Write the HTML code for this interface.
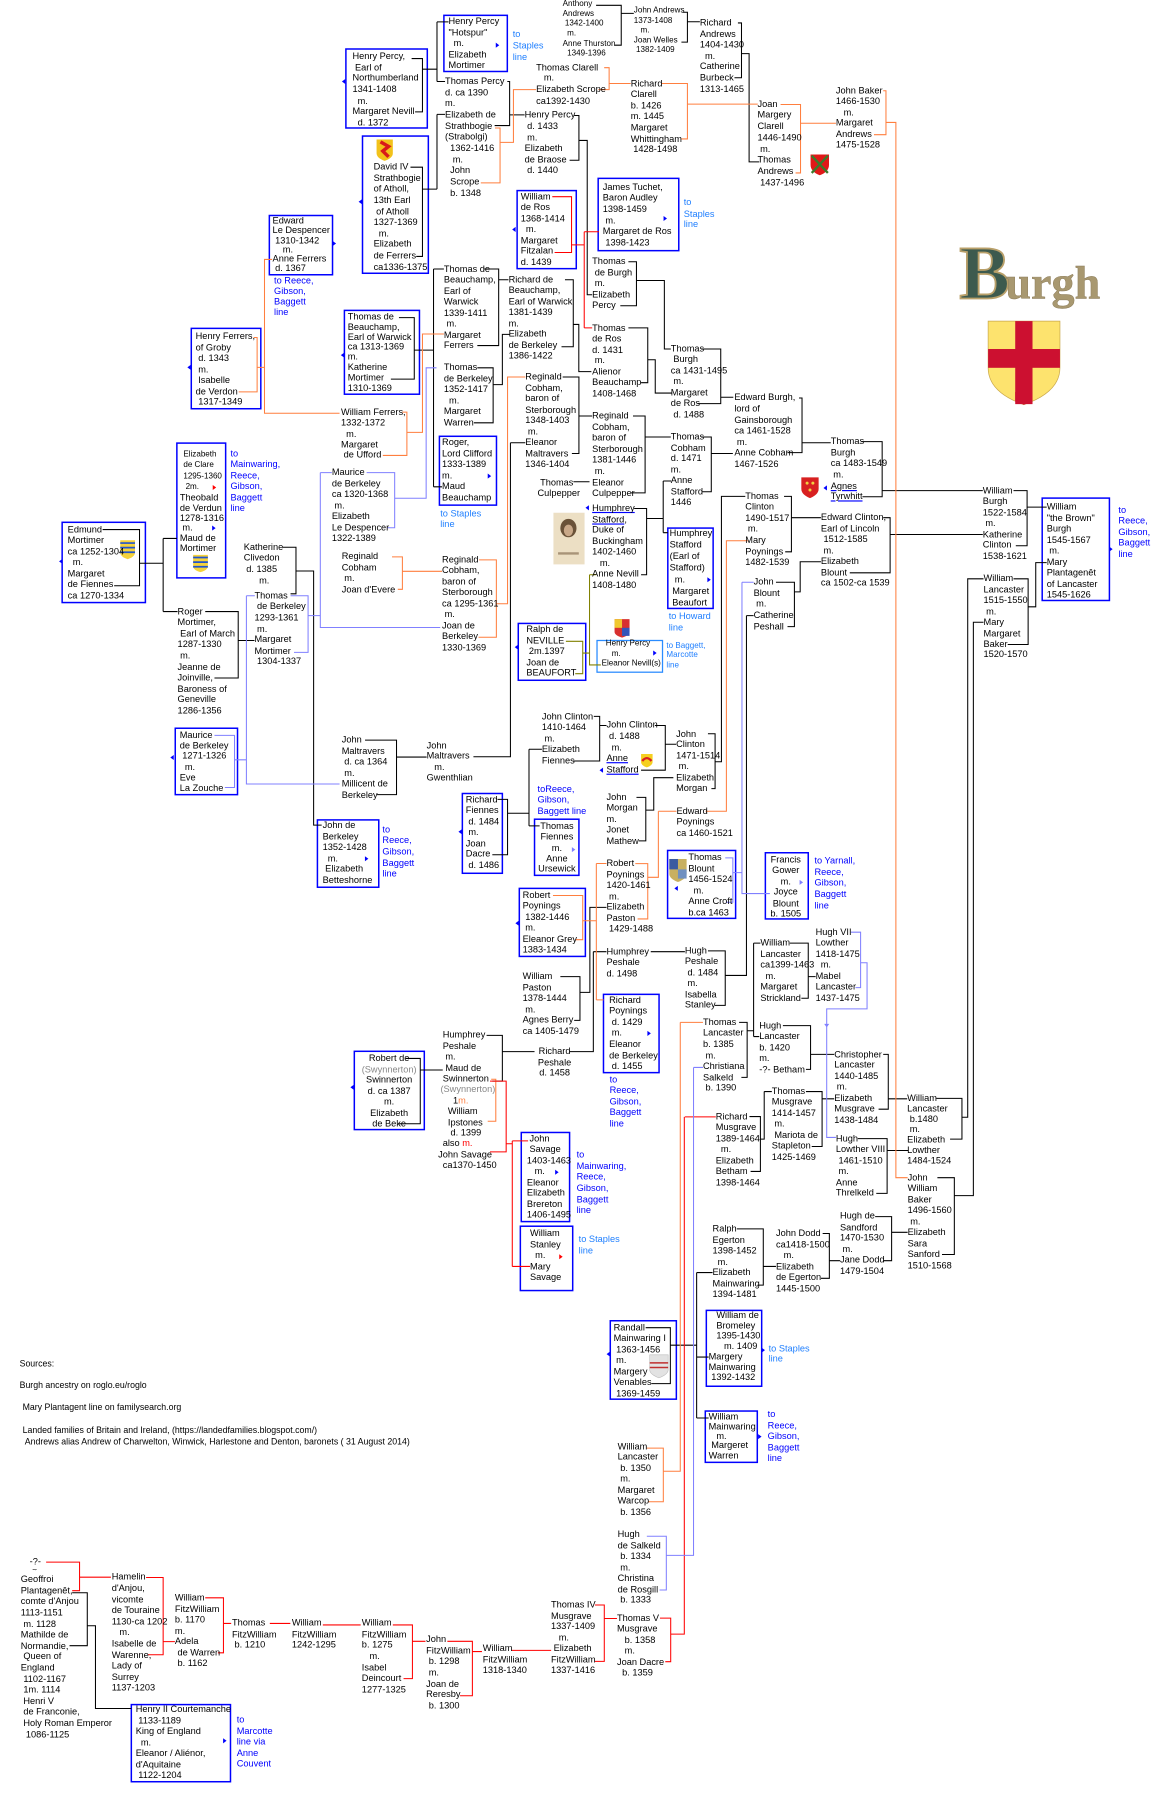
<!DOCTYPE html>
<html><head><meta charset="utf-8">
<style>
html,body{margin:0;padding:0;background:#fff;}
body{width:1153px;height:1804px;overflow:hidden;position:relative;}
#w{position:absolute;left:0;top:0;width:1000px;height:1565px;transform:scale(1.153);transform-origin:0 0;}
.t{position:absolute;font-family:"Liberation Sans",sans-serif;font-size:8px;line-height:9.6px;white-space:nowrap;color:#000;}
.s{font-size:7px;}
.bl{color:#0000ff;}
.lb{color:#1f7fff;}
.c{text-align:center;}
u{text-decoration-color:#0000ff;}
svg{position:absolute;left:0;top:0;}
</style></head><body><div id="w">
<svg width="1000" height="1565" viewBox="0 0 1000 1565" xmlns="http://www.w3.org/2000/svg">
<g fill="none" stroke="#0000ff" stroke-width="1.3">
<rect x="385" y="13.3" width="55" height="48.7"/>
<rect x="300" y="42.5" width="70.6" height="68.5"/>
<rect x="314.4" y="118" width="57.1" height="119"/>
<rect x="233.6" y="186.9" width="54.8" height="51.4"/>
<rect x="448.5" y="165.3" width="51.3" height="67.7"/>
<rect x="518.8" y="154.7" width="69.9" height="62.7"/>
<rect x="165.9" y="284.8" width="60.3" height="69.7"/>
<rect x="298.7" y="269.2" width="65.1" height="72.7"/>
<rect x="381.1" y="378.4" width="49.5" height="59.7"/>
<rect x="153.4" y="384.3" width="42.3" height="116.9"/>
<rect x="53.9" y="453" width="72.2" height="69.6"/>
<rect x="579.2" y="458" width="39.3" height="69.7"/>
<rect x="903.9" y="432" width="58.3" height="88.8"/>
<rect x="449.5" y="540.7" width="58.5" height="49.3"/>
<rect x="152" y="631.6" width="54" height="57.6"/>
<rect x="275.3" y="711.1" width="53.2" height="58.4"/>
<rect x="401" y="688.2" width="34.7" height="69.2"/>
<rect x="463.6" y="710.5" width="38.5" height="48.7"/>
<rect x="579" y="737.6" width="59" height="58.9"/>
<rect x="663.8" y="739.6" width="37.2" height="57.4"/>
<rect x="450.4" y="770.5" width="57.3" height="59"/>
<rect x="523.4" y="862.4" width="48.2" height="67.9"/>
<rect x="307.3" y="911.8" width="60.7" height="67.9"/>
<rect x="452.1" y="982.2" width="41.9" height="77.3"/>
<rect x="451.3" y="1063.5" width="45.4" height="55.8"/>
<rect x="529.3" y="1145.5" width="57.3" height="68"/>
<rect x="612.6" y="1136.5" width="48" height="65.8"/>
<rect x="611.7" y="1223.8" width="45.1" height="44.5"/>
<rect x="113.9" y="1478.4" width="86" height="66.9"/>
</g>
<rect x="517.8" y="555.5" width="56.8" height="27.5" fill="none" stroke="#2a8cff" stroke-width="1.1"/>
<g fill="none" stroke="#000" stroke-width="0.9">
<path d="M517,4.6H538.8V39.2H533M538.8,11.6H549.7"/>
<path d="M592,10.6H596.2V36.5H591M596.2,18.9H607"/>
<path d="M640,19.9H643.1V67.4H637M643.1,46.5H649.7V140.4H658.5"/>
<path d="M357,50.8H366.4V97H360M366.4,60H379M379,19V70.7M379,19H389M379,70.7H386M379,99.2V164M379,99.2H386"/>
<path d="M356,145H366.4V222.4H361M366.4,164H379"/>
<path d="M440,70.7H442V108.9H429M442,99.6H455"/>
<path d="M498,100.2H502.1V139H494M502.1,121.8H509.3V255.6H513.6"/>
<path d="M545,227H552V265.2H538M552,243.3H576.2V302.7H581.8"/>
<path d="M545,284.4H561.8V331.9H556M561.8,312H568.3V340.9H583"/>
<path d="M608,302.7H625.1V350.1H605M625.1,344.5H636"/>
<path d="M693,345.2H695.6V392.6H683M695.6,384H720.5"/>
<path d="M747,383H765.1V430.8H748M765.1,425.5H852.4"/>
<path d="M346,275.5H359.3V328.8H339M359.3,303.7H376M376,233.3V422.2M376,233.3H385M376,422.2H383.4"/>
<path d="M420,233.3H432.5V299.7H414M432.5,242.6H441"/>
<path d="M490,242.6H497.2V300.7H487M497.2,281.4H502V322.3H512.9"/>
<path d="M414,319H427.7V366.7H411M427.7,333.6H435.7V290H442"/>
<path d="M488,327H502.1V393.3H496M502.1,360.8H513.6"/>
<path d="M549,360.8H559.5V427.5H547M559.5,379H581.8"/>
<path d="M497.3,417.8H511.3"/>
<path d="M608,379H616.9V426.5H609M616.9,393.3H635.6"/>
<path d="M575.2,417.2V462M575.2,417.2H582M575.2,462H579.2M560.8,449.7H575.2"/>
<path d="M550,441H560.8V498.5H556"/>
<path d="M442.7,384H455.6M442.7,384V656.3H410.6"/>
<path d="M89,459.3H121V508H99M121,488.5H141.5M141.5,467V530.4M141.5,467H153.4M141.5,530.4H154"/>
<path d="M178,530.4H206.6V588H186M206.6,555.5H220.7"/>
<path d="M245,474.6H256.7V515H252M256.7,495.2H272V715.6H279"/>
<path d="M316.6,641.9H343.9V689.2H327M343.9,656.6H370"/>
<path d="M515,621.3H520.1V660H497M520.1,629.2H526"/>
<path d="M458.8,649.8V716.3M458.8,649.8H470M458.8,716.3H468M440.2,705.3H458.8"/>
<path d="M431.5,693.3H440.2V741.3H427"/>
<path d="M568,629.2H577V668H556M577,645.5H586.4"/>
<path d="M614,636.4H620.2V684H617M620.2,660.7H625.7V430.5H646.4"/>
<path d="M552,691.6H560.1V729.3H554M560.1,702.6H567V674.5H584"/>
<path d="M680,430.5H686.4V478.6H681M686.4,449H712"/>
<path d="M766,449H772V496.8H737M772,463.6H852.4"/>
<path d="M673,505H689V543.5H683M689,513.3H694V487.2H712"/>
<path d="M647.4,533.9H653.6M647.4,533.9V846H629M614,824.7H629V872H620"/>
<path d="M564.4,825.4H594M514.6,825.4H526M514.6,825.4V912.1H494"/>
<path d="M486,847H503V885H498M503,860.7H511.6V787H526"/>
<path d="M685,818H701V865.8H695M701,847H707.4M653.6,818V899M653.6,818H659.5M653.6,899H658.5"/>
<path d="M641,886.7H648V934.4H643M648,894H653.6"/>
<path d="M679,889.5H703V927.5H699M703,914.5H723.5"/>
<path d="M766,914.5H770.4V962H762M770.4,953H786.8"/>
<path d="M699,946.7H713V994.4H704M713,953H723.5M662.8,946.7V988H659.5M662.8,946.7H669.4"/>
<path d="M650,968.4H659.5V1016H651"/>
<path d="M744,987.5H769.4V1035H760M769.4,997.8H788"/>
<path d="M812,952.6H834.3V988H824M834.3,969H839.3V502H853"/>
<path d="M879,502H891.7V559H874M891.7,526.3H898.3V488H907.8"/>
<path d="M879,425.5H890.8V473.3H881M890.8,439.8H907.8"/>
<path d="M813,1021.4H827.7V1088H817M827.7,1037H844.2V539.7H853"/>
<path d="M422,898H435.7V937.7H427M435.7,912.1H463.6"/>
<path d="M352,918H364.5V974.6H346M364.5,928H384"/>
<path d="M639,1065.8H662V1114.6H657M662,1098.4H673"/>
<path d="M713.5,1069.8H719.3V1108.7H712M719.3,1093.4H728.5"/>
<path d="M759,1055.2H773.3V1093.4H766M773.3,1068.8H787.2"/>
<path d="M560,1151.5H581.4V1200H565M581.4,1166.7H604.2M604.2,1103.7V1229.8M604.2,1103.7H618M604.2,1229.8H614.6M604.2,1177H614.6"/>
<path d="M62.6,1381.4H75.7V1427.3H60.3M75.7,1410H82.8V1481.8H113.9"/>
</g>
<g fill="none" stroke="#ff7f3f" stroke-width="0.9">
<path d="M429.3,111H433.7V158.6H417M433.7,123.5H445.3V77.7H465"/>
<path d="M524,58.7H528.3V77.7H519M528.3,72.4H547"/>
<path d="M574,72.4H596.2V120.5H591M596.2,90.3H657.2"/>
<path d="M677,90.6H694.3V150H690M694.3,106.9H725"/>
<path d="M766,78.7H768.4V116.8H758M768.4,106.2H777V1021.4H787.2"/>
<path d="M236,225H229.4V358.4H294.5M220,292.7H223V339.9H207M223,318.6H229.4"/>
<path d="M385,289.7H366.4V375H352.9M349,357.4H352.9V395H332"/>
<path d="M455.6,327H440.2V523.6H430.5M415.5,485.6H430.5V552.7H415"/>
<path d="M340,483H349V511.1H345M349,495.5H383.4"/>
<path d="M612,703.6H630V469H648.7M571,703.6H586.7M571,703.6V760.9H561.8M551,749H561.8V797H553"/>
<path d="M479.6,776.7H505.4V815H499M505.4,798.6H517.2M517.2,748.9V867.2M517.2,748.9H526M517.2,867.2H523.4"/>
<path d="M426,936H430V972.5H423"/>
<path d="M590,886.7H609.7M590,886.7V1276H575.3M561,1256H575.3V1302.5H562"/>
</g>
<g fill="none" stroke="#ff0000" stroke-width="0.9">
<path d="M479,170.6H495.7V219H481M495.7,212.4H506.7M506.7,201V284.4M506.7,201H519.5M506.7,284.4H513.6"/>
<path d="M425,937.7H439V999H425M439,992H444.3M444.3,989.5V1098.4M444.3,989.5H458M444.3,1098.4H459.7"/>
<path d="M594,968.7H620.8M593.5,968.7V1417.3H581.7M572.4,1403.4H581.7V1441.2H577"/>
<path d="M516,1392H524.1V1440.9H516M524.1,1403.7H535.1"/>
<path d="M443.8,1431.4H478"/>
<path d="M40,1354.8H69V1379.6H62.6M69,1367.9H96.2"/>
<path d="M126.7,1368.2H141.5V1435.2H128M141.5,1423.8H151.7"/>
<path d="M178,1385.8H193.8V1433.5H189M193.8,1408H200.5"/>
<path d="M234,1408H251.8M280,1409.3H312.8"/>
<path d="M340.7,1409.3H357.7V1455.9H350M357.7,1423.5H369"/>
<path d="M388,1423.5H409.7V1470.7H399M409.7,1432.4H418"/>
</g>
<g fill="none" stroke="#8080ff" stroke-width="0.9">
<path d="M277.8,409.9H287.8M318,409.9H342.3V457.7H336M342.3,432.1H369.6V319H378.6M277.8,409.9V544.2H381.8"/>
<path d="M252,516.7H267.2V565.8H255M267.2,533.9H277.8M213.7,516.7H221M213.7,516.7V680H294.5M186,637.8H203.4V683H195M203.4,659H213.7"/>
<path d="M629,744H635.6V782.5H630M635.6,756.8H643.5M643.5,505H653.6M643.5,505V775H667.7"/>
<path d="M738,808.5H746.4V856.6H742M746.4,835H752V875H717V986.5H725"/>
<path d="M601.5,925.8H609.7M601.5,925.8V1349H577.9M561,1332.4H577.9V1379H572"/>
</g>
<g fill="none" stroke="#808000" stroke-width="0.9">
<path d="M490.8,556.2H505.4V584.3H498.9M505.4,566.4H511.3M511.3,498.5V576.7H521.1M511.3,498.5H516.8"/>
</g>
<!-- arrows -->
<g fill="#0000ff">
<path d="M430,37l3,2.2l-3,2.2z"/><path d="M288.5,209l3,2.2l-3,2.2z"/><path d="M423,410.7l3,2.2l-3,2.2z"/>
<path d="M184,455.8l3,2.2l-3,2.2z"/><path d="M575.5,187.3l3,2.2l-3,2.2z"/><path d="M316.5,742.6l3,2.2l-3,2.2z"/>
<path d="M561.5,894.1l3,2.2l-3,2.2z"/><path d="M481.5,1014.5l3,2.2l-3,2.2z"/><path d="M660.5,1168.8l3,2.2l-3,2.2z"/>
<path d="M657.5,1243.8l3,2.2l-3,2.2z"/><path d="M193.5,1507.6l3,2.2l-3,2.2z"/><path d="M613.5,500.6l3,2.2l-3,2.2z"/>
<path d="M566.5,564.2l3,2.2l-3,2.2z"/><path d="M962,474.1l3,2.2l-3,2.2z"/>
<path d="M299.5,68.5l-3,2.2l3,2.2z"/><path d="M314,172.8l-3,2.2l3,2.2z"/><path d="M447.2,196.8l-3,2.2l3,2.2z"/>
<path d="M165.5,316.4l-3,2.2l3,2.2z"/><path d="M298.6,305.8l-3,2.2l3,2.2z"/><path d="M54.2,484.7l-3,2.2l3,2.2z"/>
<path d="M150.7,654.8l-3,2.2l3,2.2z"/><path d="M400.6,719.2l-3,2.2l3,2.2z"/><path d="M450,798.5l-3,2.2l3,2.2z"/>
<path d="M306.9,940.8l-3,2.2l3,2.2z"/><path d="M449.4,559.1l-3,2.2l3,2.2z"/><path d="M529.1,1172.2l-3,2.2l3,2.2z"/>
<path d="M587.9,768.3l-3,2.2l3,2.2z"/><path d="M717.2,421l-3,2.2l3,2.2z"/><path d="M510.8,438.2l-3,2.2l3,2.2z"/>
<path d="M523,665.8l-3,2.2l3,2.2z"/>
</g>
<g fill="#8080ff"><path d="M496,734.7l3,2.2l-3,2.2z"/><path d="M693.5,763.1l3,2.2l-3,2.2z"/><path d="M714.8,888l2.2,3l2.2,-3z"/></g>
<g fill="#ff0000"><path d="M184.5,420.6l3,2.2l-3,2.2z"/><path d="M485,1087.8l3,2.2l-3,2.2z"/></g>
<!-- shields / images -->
<path d="M857,278.5H919.3V319Q919.3,340 888,351Q857,340 857,319Z" fill="#fde36e" stroke="#c9a74a" stroke-width="0.6"/>
<rect x="880.5" y="278.5" width="15" height="72" fill="#cc1030"/>
<rect x="857" y="302.7" width="62.3" height="16.3" fill="#cc1030"/>
<path d="M888,351 L880.5,348 V340 H895.5 V348Z" fill="#cc1030"/>
<text x="832" y="259" font-family="Liberation Serif,serif" font-weight="bold" font-size="66" fill="#3d5a4e" stroke="#b9a06a" stroke-width="1.6">B</text>
<text x="872" y="259" font-family="Liberation Serif,serif" font-weight="bold" font-size="40" fill="#a89870" stroke="#8a7a58" stroke-width="0.4">urgh</text>
<path d="M703,134H719V143Q719,149 711,152Q703,149 703,143Z" fill="#e01818"/>
<path d="M704,135L718,150M718,135L704,150" stroke="#3b7a2a" stroke-width="2"/>
<path d="M695,414H710V424Q710,429 702.5,432Q695,429 695,424Z" fill="#d82020"/>
<circle cx="700" cy="419" r="1.3" fill="#f0d040"/><circle cx="705" cy="419" r="1.3" fill="#f0d040"/><circle cx="702.5" cy="425" r="1.3" fill="#f0d040"/>
<path d="M326.6,121H340.7V133Q340.7,137 333.6,139.5Q326.6,137 326.6,133Z" fill="#f2c21a"/>
<path d="M330,123L337,127L332,131L337,136" stroke="#d81a1a" stroke-width="3" fill="none"/>
<path d="M104.3,468.6H117.1V479Q117.1,483 110.7,485Q104.3,483 104.3,479Z" fill="#f5d23a"/>
<path d="M104.3,471H117.1M104.3,475H117.1M104.3,479H117.1" stroke="#2255cc" stroke-width="1.5"/>
<path d="M167.5,481.2H180.3V491Q180.3,494.5 173.9,496.2Q167.5,494.5 167.5,491Z" fill="#f5d23a"/>
<path d="M167.5,483.5H180.3M167.5,487.5H180.3M167.5,491.5H180.3" stroke="#2255cc" stroke-width="1.5"/>
<path d="M533,537H546V548Q546,551 539.5,553Q533,551 533,548Z" fill="#d83030"/>
<rect x="533" y="537" width="6.5" height="7.5" fill="#f0c830"/><rect x="539.5" y="544.5" width="6.5" height="7" fill="#3355bb"/>
<path d="M556,654H566V661Q566,664 561,665.5Q556,664 556,661Z" fill="#f5d020"/>
<path d="M557,660Q561,655 565,660" stroke="#d82020" stroke-width="2" fill="none"/>
<path d="M580.5,745H595.5V758Q595.5,762 588,765Q580.5,762 580.5,758Z" fill="#c8b060"/>
<rect x="580.5" y="745" width="7.5" height="9" fill="#3a5aa0"/><rect x="588" y="754" width="7.5" height="8" fill="#7090c0"/>
<path d="M563.5,1175H579.5V1188Q579.5,1192 571.5,1195Q563.5,1192 563.5,1188Z" fill="#e2e2e2" stroke="#bbb" stroke-width="0.5"/>
<path d="M563.5,1182H579.5M563.5,1186H579.5" stroke="#c03030" stroke-width="1.3"/>
<rect x="480" y="444.7" width="27" height="44.8" fill="#ecdfc4"/>
<ellipse cx="493" cy="458" rx="7" ry="8" fill="#6a5238"/><ellipse cx="493" cy="460" rx="4" ry="5" fill="#c9a888"/>
<path d="M484,480H502" stroke="#a89478" stroke-width="2"/>
</svg>

<div class="t s" style="left:488px;top:0.3px;line-height:8.6px">Anthony<br>Andrews<br>&nbsp;1342-1400<br>&nbsp;&nbsp;m.<br>Anne Thurston<br>&nbsp;&nbsp;1349-1396</div>
<div class="t s" style="left:549.7px;top:6.35px;line-height:8.5px">John Andrews<br>1373-1408<br>&nbsp;&nbsp;&nbsp;m.<br>Joan Welles<br>&nbsp;1382-1409</div>
<div class="t" style="left:607px;top:15.1px">Richard<br>Andrews<br>1404-1430<br>&nbsp;&nbsp;m.<br>Catherine<br>Burbeck<br>1313-1465</div>
<div class="t" style="left:389px;top:14.25px;line-height:9.5px">Henry Percy<br>"Hotspur"<br>&nbsp;&nbsp;m.<br>Elizabeth<br>Mortimer</div>
<div class="t lb" style="left:444.7px;top:25.4px">to<br>Staples<br>line</div>
<div class="t" style="left:305.7px;top:44.2px">Henry Percy,<br>&nbsp;Earl of<br>Northumberland<br>1341-1408<br>&nbsp;&nbsp;m.<br>Margaret Nevill<br>&nbsp;&nbsp;d. 1372</div>
<div class="t" style="left:386px;top:65.85px;line-height:9.7px">Thomas Percy<br>d. ca 1390<br>m.<br>Elizabeth de<br>Strathbogie<br>(Strabolgi)<br>&nbsp;&nbsp;1362-1416<br>&nbsp;&nbsp;&nbsp;m.<br>&nbsp;&nbsp;John<br>&nbsp;&nbsp;Scrope<br>&nbsp;&nbsp;b. 1348</div>
<div class="t" style="left:465px;top:53.9px">Thomas Clarell<br>&nbsp;&nbsp;&nbsp;m.<br>Elizabeth Scrope<br>ca1392-1430</div>
<div class="t" style="left:547px;top:67.6px">Richard<br>Clarell<br>b. 1426<br>m. 1445<br>Margaret<br>Whittingham<br>&nbsp;1428-1498</div>
<div class="t" style="left:455px;top:95.4px">Henry Percy<br>&nbsp;d. 1433<br>&nbsp;m.<br>Elizabeth<br>de Braose<br>&nbsp;d. 1440</div>
<div class="t" style="left:324px;top:140.2px">David IV<br>Strathbogie<br>of Atholl,<br>13th Earl<br>&nbsp;of Atholl<br>1327-1369<br>&nbsp;&nbsp;m.<br>Elizabeth<br>de Ferrers<br>ca1336-1375</div>
<div class="t" style="left:657px;top:85.75px;line-height:9.7px">Joan<br>Margery<br>Clarell<br>1446-1490<br>&nbsp;m.<br>Thomas<br>Andrews<br>&nbsp;1437-1496</div>
<div class="t" style="left:725px;top:73.95px;line-height:9.5px">John Baker<br>1466-1530<br>&nbsp;&nbsp;&nbsp;m.<br>Margaret<br>Andrews<br>1475-1528</div>
<div class="t" style="left:236.4px;top:188.1px;line-height:8.2px">Edward<br>Le Despencer<br>&nbsp;1310-1342<br>&nbsp;&nbsp;&nbsp;&nbsp;m.<br>Anne Ferrers<br>&nbsp;d. 1367</div>
<div class="t bl" style="left:237.7px;top:238.8px;line-height:9px">to Reece,<br>Gibson,<br>Baggett<br>line</div>
<div class="t" style="left:451.7px;top:165.85px;line-height:9.5px">William<br>de Ros<br>1368-1414<br>&nbsp;&nbsp;m.<br>Margaret<br>Fitzalan<br>d. 1439</div>
<div class="t" style="left:522.8px;top:157.8px">James Tuchet,<br>Baron Audley<br>1398-1459<br>&nbsp;m.<br>Margaret de Ros<br>&nbsp;1398-1423</div>
<div class="t lb" style="left:593px;top:171.1px">to<br>Staples<br>line</div>
<div class="t" style="left:513.6px;top:222.2px;line-height:9.55px">Thomas<br>&nbsp;de Burgh<br>&nbsp;m.<br>Elizabeth<br>Percy</div>
<div class="t" style="left:169.7px;top:287.2px;line-height:9.55px">Henry Ferrers,<br>of Groby<br>&nbsp;d. 1343<br>&nbsp;m.<br>&nbsp;Isabelle<br>de Verdon<br>&nbsp;1317-1349</div>
<div class="t" style="left:301.6px;top:271.1px;line-height:8.8px">Thomas de<br>Beauchamp,<br>Earl of Warwick<br>ca 1313-1369<br>m.<br>Katherine<br>Mortimer<br>1310-1369</div>
<div class="t" style="left:385px;top:228.55px;line-height:9.5px">Thomas de<br>Beauchamp,<br>Earl of<br>Warwick<br>1339-1411<br>&nbsp;m.<br>Margaret<br>Ferrers</div>
<div class="t" style="left:441.1px;top:237.85px;line-height:9.5px">Richard de<br>Beauchamp,<br>Earl of Warwick<br>1381-1439<br>m.<br>Elizabeth<br>de Berkeley<br>1386-1422</div>
<div class="t" style="left:513.6px;top:279.65px;line-height:9.5px">Thomas<br>de Ros<br>d. 1431<br>&nbsp;m.<br>Alienor<br>Beauchamp<br>1408-1468</div>
<div class="t" style="left:581.8px;top:297.95px;line-height:9.5px">Thomas<br>&nbsp;Burgh<br>ca 1431-1495<br>&nbsp;m.<br>Margaret<br>de Ros<br>&nbsp;d. 1488</div>
<div class="t" style="left:636.9px;top:340.4px">Edward Burgh,<br>lord of<br>Gainsborough<br>ca 1461-1528<br>&nbsp;m.<br>Anne Cobham<br>1467-1526</div>
<div class="t" style="left:720.5px;top:378.2px">Thomas<br>Burgh<br>ca 1483-1549<br>&nbsp;m.<br><u>Agnes</u><br><u>Tyrwhitt</u></div>
<div class="t" style="left:385px;top:314.25px;line-height:9.5px">Thomas<br>de Berkeley<br>1352-1417<br>&nbsp;&nbsp;m.<br>Margaret<br>Warren</div>
<div class="t" style="left:295.8px;top:352.7px;line-height:9.4px">William Ferrers,<br>1332-1372<br>&nbsp;&nbsp;m.<br>Margaret<br>&nbsp;de Ufford</div>
<div class="t" style="left:455.6px;top:322.25px;line-height:9.5px">Reginald<br>Cobham,<br>baron of<br>Sterborough<br>1348-1403<br>&nbsp;m.<br>Eleanor<br>Maltravers<br>1346-1404</div>
<div class="t" style="left:513.6px;top:356px">Reginald<br>Cobham,<br>baron of<br>Sterborough<br>1381-1446<br>&nbsp;m.<br>Eleanor<br>Culpepper</div>
<div class="t" style="left:466.2px;top:414.15px;line-height:9.3px">&nbsp;Thomas<br>Culpepper</div>
<div class="t" style="left:581.8px;top:374.25px;line-height:9.5px">Thomas<br>Cobham<br>d. 1471<br>m.<br>Anne<br>Stafford<br>1446</div>
<div class="t" style="left:383.4px;top:379.25px;line-height:9.5px">Roger,<br>Lord Clifford<br>1333-1389<br>m.<br>Maud<br>Beauchamp</div>
<div class="t lb" style="left:381.8px;top:441.05px;line-height:9.3px">to Staples<br>line</div>
<div class="t" style="left:287.8px;top:405.15px;line-height:9.5px">Maurice<br>de Berkeley<br>ca 1320-1368<br>&nbsp;m.<br>Elizabeth<br>Le Despencer<br>1322-1389</div>
<div class="t s" style="left:159px;top:389.5px;line-height:9.5px">Elizabeth<br>de Clare<br>1295-1360<br>&nbsp;2m.</div>
<div class="t" style="left:156px;top:428.15px;line-height:8.7px">Theobald<br>de Verdun<br>1278-1316<br>&nbsp;m.<br>Maud de<br>Mortimer</div>
<div class="t bl" style="left:199.9px;top:388.5px;line-height:9.55px">to<br>Mainwaring,<br>Reece,<br>Gibson,<br>Baggett<br>line</div>
<div class="t" style="left:58.7px;top:454.5px">Edmund<br>Mortimer<br>ca 1252-1304<br>&nbsp;&nbsp;m.<br>Margaret<br>de Fiennes<br>ca 1270-1334</div>
<div class="t" style="left:211.4px;top:469.8px">Katherine<br>Clivedon<br>&nbsp;d. 1385<br>&nbsp;&nbsp;&nbsp;&nbsp;&nbsp;&nbsp;m.</div>
<div class="t" style="left:220.7px;top:511.9px;line-height:9.55px">Thomas<br>&nbsp;de Berkeley<br>1293-1361<br>&nbsp;m.<br>Margaret<br>Mortimer<br>&nbsp;1304-1337</div>
<div class="t" style="left:296.4px;top:478.3px;line-height:9.4px">Reginald<br>Cobham<br>&nbsp;m.<br>Joan d'Evere</div>
<div class="t" style="left:383.4px;top:480.85px;line-height:9.5px">Reginald<br>Cobham,<br>baron of<br>Sterborough<br>ca 1295-1361<br>&nbsp;m.<br>Joan de<br>Berkeley<br>1330-1369</div>
<div class="t" style="left:513.6px;top:436.25px;line-height:9.5px"><u>Humphrey</u><br><u>Stafford</u>,<br>Duke of<br>Buckingham<br>1402-1460<br>&nbsp;&nbsp;&nbsp;m.<br>Anne Nevill<br>1408-1480</div>
<div class="t" style="left:580.8px;top:458px;line-height:10px">Humphrey<br>Stafford<br>(Earl of<br>Stafford)<br>&nbsp;&nbsp;m.<br>&nbsp;Margaret<br>&nbsp;Beaufort</div>
<div class="t lb" style="left:580px;top:530.4px;line-height:9.2px">to Howard<br>line</div>
<div class="t" style="left:646.4px;top:425.7px">Thomas<br>Clinton<br>1490-1517<br>&nbsp;m.<br>Mary<br>Poynings<br>1482-1539</div>
<div class="t" style="left:712px;top:444.25px;line-height:9.5px">Edward Clinton,<br>Earl of Lincoln<br>&nbsp;1512-1585<br>&nbsp;m.<br>Elizabeth<br>Blount<br>ca 1502-ca 1539</div>
<div class="t" style="left:852.4px;top:420.75px;line-height:9.5px">William<br>Burgh<br>1522-1584<br>&nbsp;m.<br>Katherine<br>Clinton<br>1538-1621</div>
<div class="t" style="left:907.8px;top:435.05px;line-height:9.5px">William<br>"the Brown"<br>Burgh<br>1545-1567<br>&nbsp;m.<br>Mary<br>Plantagenêt<br>of Lancaster<br>1545-1626</div>
<div class="t bl" style="left:970px;top:437.65px;line-height:9.5px">to<br>Reece,<br>Gibson,<br>Baggett<br>line</div>
<div class="t" style="left:853px;top:497.3px;line-height:9.45px">William<br>Lancaster<br>1515-1550<br>&nbsp;m.<br>Mary<br>Margaret<br>Baker<br>1520-1570</div>
<div class="t" style="left:653.6px;top:500.2px">John<br>Blount<br>&nbsp;m.<br>Catherine<br>Peshall</div>
<div class="t" style="left:456.5px;top:541.45px;line-height:9.5px">Ralph de<br>NEVILLE<br>&nbsp;2m.1397<br>Joan de<br>BEAUFORT</div>
<div class="t s" style="left:525.4px;top:555.4px;line-height:8.5px">Henry Percy</div>
<div class="t s" style="left:530.6px;top:563.9px;line-height:8.5px">m.</div>
<div class="t s" style="left:521.8px;top:572.4px;line-height:8.5px">Eleanor Nevill(s)</div>
<div class="t lb s" style="left:578px;top:556.75px;line-height:8.5px">to Baggett,<br>Marcotte<br>line</div>
<div class="t" style="left:154px;top:525.6px">Roger<br>Mortimer,<br>&nbsp;Earl of March<br>1287-1330<br>&nbsp;m.<br>Jeanne de<br>Joinville,<br>Baroness of<br>Geneville<br>1286-1356</div>
<div class="t" style="left:155.9px;top:633.25px;line-height:9.1px">Maurice<br>de Berkeley<br>&nbsp;1271-1326<br>&nbsp;&nbsp;m.<br>Eve<br>La Zouche</div>
<div class="t" style="left:296.4px;top:637.15px;line-height:9.5px">John<br>Maltravers<br>&nbsp;d. ca 1364<br>&nbsp;m.<br>Millicent de<br>Berkeley</div>
<div class="t" style="left:370px;top:641.95px;line-height:9.5px">John<br>Maltravers<br>&nbsp;&nbsp;&nbsp;m.<br>Gwenthlian</div>
<div class="t" style="left:279.8px;top:711.2px;line-height:9.55px">John de<br>Berkeley<br>1352-1428<br>&nbsp;&nbsp;m.<br>&nbsp;Elizabeth<br>Betteshorne</div>
<div class="t bl" style="left:331.7px;top:714.9px;line-height:9.55px">to<br>Reece,<br>Gibson,<br>Baggett<br>line</div>
<div class="t" style="left:470px;top:616.5px">John Clinton<br>1410-1464<br>&nbsp;m.<br>Elizabeth<br>Fiennes</div>
<div class="t" style="left:526px;top:624.4px">John Clinton<br>&nbsp;d. 1488<br>&nbsp;&nbsp;m.<br><u>Anne</u><br><u>Stafford</u></div>
<div class="t" style="left:586.4px;top:631.65px;line-height:9.5px">John<br>Clinton<br>1471-1514<br>&nbsp;m.<br>Elizabeth<br>Morgan</div>
<div class="t bl" style="left:466.2px;top:679.9px">toReece,<br>Gibson,<br>Baggett line</div>
<div class="t" style="left:404px;top:688.5px">Richard<br>Fiennes<br>&nbsp;d. 1484<br>&nbsp;m.<br>Joan<br>Dacre<br>&nbsp;d. 1486</div>
<div class="t c" style="left:464px;width:38px;top:711.6px;line-height:9.45px">Thomas<br>Fiennes<br>m.<br>Anne<br>Ursewick</div>
<div class="t" style="left:526px;top:686.9px;line-height:9.45px">John<br>Morgan<br>m.<br>Jonet<br>Mathew</div>
<div class="t" style="left:586.7px;top:698.8px">Edward<br>Poynings<br>ca 1460-1521</div>
<div class="t" style="left:597px;top:739.25px;line-height:9.5px">Thomas<br>Blount<br>1456-1524<br>&nbsp;&nbsp;m.<br>Anne Croft<br>b.ca 1463</div>
<div class="t c" style="left:664px;width:35px;top:740.75px;line-height:9.5px">Francis<br>Gower<br>m.<br>Joyce<br>Blount<br>b. 1505</div>
<div class="t bl" style="left:706.4px;top:742.2px">to Yarnall,<br>Reece,<br>Gibson,<br>Baggett<br>line</div>
<div class="t" style="left:526px;top:744.25px;line-height:9.5px">Robert<br>Poynings<br>1420-1461<br>&nbsp;m.<br>Elizabeth<br>Paston<br>&nbsp;1429-1488</div>
<div class="t" style="left:453.3px;top:771.95px;line-height:9.5px">Robert<br>Poynings<br>&nbsp;1382-1446<br>&nbsp;m.<br>Eleanor Grey<br>1383-1434</div>
<div class="t" style="left:707.4px;top:803.7px;line-height:9.55px">Hugh VII<br>Lowther<br>1418-1475<br>&nbsp;&nbsp;m.<br>Mabel<br>Lancaster<br>1437-1475</div>
<div class="t" style="left:659.5px;top:813.2px;line-height:9.55px">William<br>Lancaster<br>ca1399-1463<br>&nbsp;&nbsp;m.<br>Margaret<br>Strickland</div>
<div class="t" style="left:526px;top:820.7px;line-height:9.4px">Humphrey<br>Peshale<br>d. 1498</div>
<div class="t" style="left:594px;top:819.95px;line-height:9.5px">Hugh<br>Peshale<br>&nbsp;d. 1484<br>&nbsp;m.<br>Isabella<br>Stanley</div>
<div class="t" style="left:453.3px;top:842.25px;line-height:9.5px">William<br>Paston<br>1378-1444<br>&nbsp;m.<br>Agnes Berry<br>ca 1405-1479</div>
<div class="t" style="left:528.3px;top:862.7px">Richard<br>Poynings<br>&nbsp;d. 1429<br>&nbsp;m.<br>Eleanor<br>de Berkeley<br>&nbsp;d. 1455</div>
<div class="t bl" style="left:528.7px;top:931.75px;line-height:9.5px">to<br>Reece,<br>Gibson,<br>Baggett<br>line</div>
<div class="t" style="left:609.7px;top:881.9px">Thomas<br>Lancaster<br>b. 1385<br>&nbsp;m.<br>Christiana<br>Salkeld<br>&nbsp;b. 1390</div>
<div class="t" style="left:658.5px;top:884.75px;line-height:9.5px">Hugh<br>Lancaster<br>b. 1420<br>m.<br>-?- Betham</div>
<div class="t" style="left:723.5px;top:909.7px;line-height:9.55px">Christopher<br>Lancaster<br>1440-1485<br>&nbsp;m.<br>Elizabeth<br>Musgrave<br>1438-1484</div>
<div class="t" style="left:384px;top:893.3px;line-height:9.4px">Humphrey<br>Peshale<br>&nbsp;m.<br>&nbsp;Maud de<br>Swinnerton<br><span style="color:#888;margin-left:-2px">(Swynnerton)</span><br>&nbsp;&nbsp;&nbsp;&nbsp;1<span style="color:#ff7f3f">m.</span><br>&nbsp;&nbsp;William<br>&nbsp;&nbsp;Ipstones<br>&nbsp;&nbsp;&nbsp;d. 1399<br>also <span style="color:#ff0000">m.</span><br><span style="margin-left:-4px">John Savage</span><br>ca1370-1450</div>
<div class="t c" style="left:462px;width:38px;top:907.35px;line-height:9.5px">Richard<br>Peshale<br>d. 1458</div>
<div class="t c" style="left:309px;width:57px;top:913.25px;line-height:9.5px">Robert de<br><span style="color:#888">(Swynnerton)</span><br>Swinnerton<br>d. ca 1387<br>m.<br>Elizabeth<br>de Beke</div>
<div class="t" style="left:669.4px;top:941.95px;line-height:9.5px">Thomas<br>Musgrave<br>1414-1457<br>&nbsp;m.<br>&nbsp;Mariota de<br>Stapleton<br>1425-1469</div>
<div class="t" style="left:620.8px;top:963.6px;line-height:9.55px">Richard<br>Musgrave<br>1389-1464<br>&nbsp;&nbsp;m.<br>Elizabeth<br>Betham<br>1398-1464</div>
<div class="t" style="left:786.8px;top:948.05px;line-height:9.07px">William<br>Lancaster<br>&nbsp;b.1480<br>&nbsp;m.<br>Elizabeth<br>Lowther<br>1484-1524</div>
<div class="t" style="left:725px;top:982.75px;line-height:9.5px">Hugh<br>Lowther VIII<br>&nbsp;1461-1510<br>&nbsp;m.<br>Anne<br>Threlkeld</div>
<div class="t" style="left:457px;top:982.75px;line-height:9.5px">&nbsp;John<br>&nbsp;Savage<br>1403-1463<br>&nbsp;&nbsp;&nbsp;m.<br>Eleanor<br>Elizabeth<br>Brereton<br>1406-1495</div>
<div class="t bl" style="left:500.1px;top:997.2px">to<br>Mainwaring,<br>Reece,<br>Gibson,<br>Baggett<br>line</div>
<div class="t" style="left:787.2px;top:1016.65px;line-height:9.5px">John<br>William<br>Baker<br>1496-1560<br>&nbsp;m.<br>Elizabeth<br>Sara<br>Sanford<br>1510-1568</div>
<div class="t" style="left:728.5px;top:1050.45px;line-height:9.5px">Hugh de<br>Sandford<br>1470-1530<br>&nbsp;m.<br>Jane Dodd<br>1479-1504</div>
<div class="t" style="left:673px;top:1065.05px;line-height:9.5px">John Dodd<br>ca1418-1500<br>&nbsp;&nbsp;&nbsp;m.<br>Elizabeth<br>de Egerton<br>1445-1500</div>
<div class="t" style="left:618px;top:1061.05px;line-height:9.5px">Ralph<br>Egerton<br>1398-1452<br>&nbsp;&nbsp;m.<br>Elizabeth<br>Mainwaring<br>1394-1481</div>
<div class="t" style="left:459.7px;top:1065px">William<br>Stanley<br>&nbsp;&nbsp;m.<br>Mary<br>Savage</div>
<div class="t lb" style="left:501.9px;top:1070.3px;line-height:9.4px">to Staples<br>line</div>
<div class="t" style="left:17px;top:1178px;font-size:7.6px">Sources:</div>
<div class="t" style="left:17px;top:1197.4px;font-size:7.6px">Burgh ancestry on roglo.eu/roglo</div>
<div class="t" style="left:19.6px;top:1215.7px;font-size:7.6px">Mary Plantagent line on familysearch.org</div>
<div class="t" style="left:19.6px;top:1236.4px;font-size:7.6px">Landed families of Britain and Ireland, (https://landedfamilies.blogspot.com/)</div>
<div class="t" style="left:21.5px;top:1245.7px;font-size:7.6px">Andrews alias Andrew of Charwelton, Winwick, Harlestone and Denton, baronets ( 31 August 2014)</div>
<div class="t" style="left:532.2px;top:1146.75px;line-height:9.5px">Randall<br>Mainwaring I<br>&nbsp;1363-1456<br>&nbsp;m.<br>Margery<br>Venables<br>&nbsp;1369-1459</div>
<div class="t" style="left:614.6px;top:1137.4px;line-height:8.95px">&nbsp;&nbsp;&nbsp;William de<br>&nbsp;&nbsp;&nbsp;Bromeley<br>&nbsp;&nbsp;&nbsp;1395-1430<br>&nbsp;&nbsp;&nbsp;&nbsp;&nbsp;&nbsp;m. 1409<br>Margery<br>Mainwaring<br>&nbsp;1392-1432</div>
<div class="t lb" style="left:666.6px;top:1165px;line-height:9.3px">to Staples<br>line</div>
<div class="t" style="left:614.6px;top:1225.35px;line-height:8.3px">William<br>Mainwaring<br>&nbsp;&nbsp;&nbsp;m.<br>&nbsp;Margeret<br>Warren</div>
<div class="t bl" style="left:665.8px;top:1222.25px;line-height:9.5px">to<br>Reece,<br>Gibson,<br>Baggett<br>line</div>
<div class="t" style="left:535.7px;top:1249.95px;line-height:9.5px">William<br>Lancaster<br>&nbsp;b. 1350<br>&nbsp;m.<br>Margaret<br>Warcop<br>&nbsp;b. 1356</div>
<div class="t" style="left:535.7px;top:1326.25px;line-height:9.5px">Hugh<br>de Salkeld<br>&nbsp;b. 1334<br>&nbsp;m.<br>Christina<br>de Rosgill<br>&nbsp;b. 1333</div>
<div class="t" style="left:477.9px;top:1387.25px;line-height:9.5px">Thomas IV<br>Musgrave<br>1337-1409<br>&nbsp;&nbsp;&nbsp;m.<br>&nbsp;Elizabeth<br>FitzWilliam<br>1337-1416</div>
<div class="t" style="left:535.1px;top:1398.65px;line-height:9.5px">Thomas V<br>Musgrave<br>&nbsp;&nbsp;&nbsp;b. 1358<br>&nbsp;&nbsp;&nbsp;m.<br>Joan Dacre<br>&nbsp;&nbsp;b. 1359</div>
<div class="t" style="left:25.7px;top:1350px">-?-</div>
<div class="t s" style="left:28px;top:1358px">~</div>
<div class="t" style="left:18px;top:1365.2px">Geoffroi<br>Plantagenêt,<br>comte d'Anjou<br>1113-1151<br>&nbsp;m. 1128<br>Mathilde de<br>Normandie,<br>&nbsp;Queen of<br>England<br>&nbsp;1102-1167<br>&nbsp;1m. 1114<br>&nbsp;Henri V<br>&nbsp;de Franconie,<br>&nbsp;Holy Roman Emperor<br>&nbsp;&nbsp;1086-1125</div>
<div class="t" style="left:96.9px;top:1363.4px">Hamelin<br>d'Anjou,<br>vicomte<br>de Touraine<br>1130-ca 1202<br>&nbsp;&nbsp;&nbsp;m.<br>Isabelle de<br>Warenne,<br>Lady of<br>Surrey<br>1137-1203</div>
<div class="t" style="left:151.7px;top:1381.05px;line-height:9.5px">William<br>FitzWilliam<br>b. 1170<br>m.<br>Adela<br>&nbsp;de Warren<br>&nbsp;b. 1162</div>
<div class="t" style="left:201.2px;top:1403.2px">Thomas<br>FitzWilliam<br>&nbsp;b. 1210</div>
<div class="t" style="left:253.1px;top:1403.2px">William<br>FitzWilliam<br>1242-1295</div>
<div class="t" style="left:313.8px;top:1403.2px">William<br>FitzWilliam<br>b. 1275<br>&nbsp;&nbsp;&nbsp;m.<br>Isabel<br>Deincourt<br>1277-1325</div>
<div class="t" style="left:369.6px;top:1417.2px">John<br>FitzWilliam<br>&nbsp;b. 1298<br>&nbsp;m.<br>Joan de<br>Reresby<br>&nbsp;b. 1300</div>
<div class="t" style="left:418.7px;top:1425.25px;line-height:9.5px">William<br>FitzWilliam<br>1318-1340</div>
<div class="t" style="left:117.7px;top:1478.15px;line-height:9.5px">Henry II Courtemanche<br>&nbsp;1133-1189<br>King of England<br>&nbsp;&nbsp;m.<br>Eleanor / Aliénor,<br>d'Aquitaine<br>&nbsp;1122-1204</div>
<div class="t bl" style="left:205.3px;top:1487.05px;line-height:9.5px">to<br>Marcotte<br>line via<br>Anne<br>Couvent</div>
</div></body></html>
